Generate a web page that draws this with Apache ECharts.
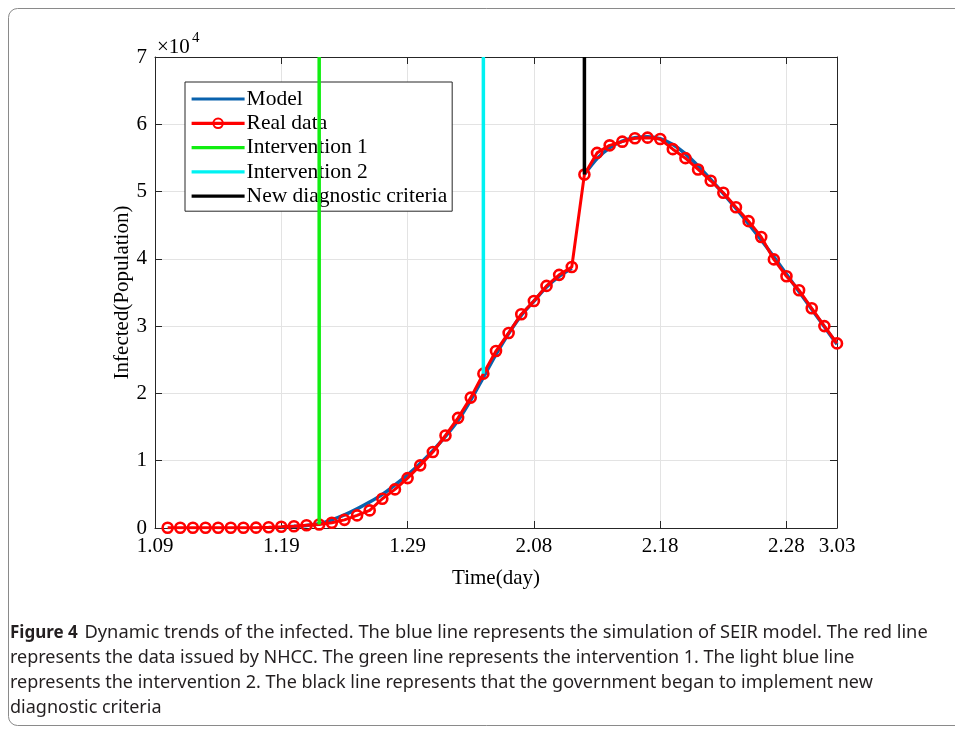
<!DOCTYPE html>
<html><head><meta charset="utf-8">
<script src="https://cdn.jsdelivr.net/npm/echarts@6/dist/echarts.min.js"></script>
<style>html,body{margin:0;padding:0;background:#fff;}#c{width:955px;height:732px;}</style>
</head><body><div id="c"></div>
<script>
// ---- data ----
const days = [1,2,3,4,5,6,7,8,9,10,11,12,13,14,15,16,17,18,19,20,21,22,23,24,25,26,27,28,29,30,31,32,33,34,35,36,37,38,39,40,41,42,43,44,45,46,47,48,49,50,51,52,53,54];
const realData = [40,40,39,38,37,35,34,50,110,175,260,403,526,771,1208,1870,2613,4349,5739,7417,9308,11289,13748,16369,19381,22942,26302,28985,31774,33738,35982,37626,38800,52526,55748,56873,57416,57934,58016,57805,56303,54965,53284,51606,49824,47672,45604,43258,39919,37414,35329,32652,30004,27433];
const modelDaysA = [10,11,12,13,14,15,16,17,18,19,20,21,22,23,24,25,26,27,28,29,30,31,32,33];
const modelA = [150,250,380,620,1200,1950,2850,3850,5000,6400,7900,9600,11500,13600,16000,19000,22400,25800,28900,31600,33700,35800,37400,38600];
const modelDaysB = [34,35,36,37,38,39,40,41,42,43,44,45,46,47,48,49,50,51,52,53,54];
const modelB = [52526,54900,56500,57500,58000,58150,57850,57000,55600,53800,51800,49700,47500,45200,42800,40300,37700,35100,32500,29900,27300];
const interventionNames = ['Intervention 1','Intervention 2','New diagnostic criteria'];
const interventionDays = [13,26,34];
const xTickValues = [0,10,20,30,40,50,54];
const xTickLabels = ['1.09','1.19','1.29','2.08','2.18','2.28','3.03'];
const yTickValues = [0,10000,20000,30000,40000,50000,60000,70000];
const yTickLabels = ['0','1','2','3','4','5','6','7'];
const captionLines = [
  'Dynamic trends of the infected. The blue line represents the simulation of SEIR model. The red line',
  'represents the data issued by NHCC. The green line represents the intervention 1. The light blue line',
  'represents the intervention 2. The black line represents that the government began to implement new',
  'diagnostic criteria'
];

const SERIF = 'Liberation Serif, Times New Roman, serif';
const AX = '#262626';
const interventionColors = ['#11ee11','#00f2f2','#000000'];

const chart = echarts.init(document.getElementById('c'));
const pair = (xs, ys) => xs.map((x,i)=>[x, ys[i]]);

const series = [
  {name:'Model', type:'line', data: pair(modelDaysA, modelA), smooth:0.3, symbol:'none',
   lineStyle:{color:'#0a62ad', width:3.5}, itemStyle:{color:'#0a62ad'}, z:2},
  {name:'Real data', type:'line', data: pair(days, realData), symbol:'circle', symbolSize:10,
   lineStyle:{color:'#f00', width:3}, itemStyle:{color:'rgba(255,255,255,0)', borderColor:'#f00', borderWidth:2.6}, z:3}
];
interventionNames.forEach((n,i)=>{
  const d = interventionDays[i];
  series.push({name:n, type:'line', symbol:'none', data:[[d, realData[days.indexOf(d)]],[d,70000]],
    lineStyle:{color:interventionColors[i], width:3.5}, itemStyle:{color:interventionColors[i]}, z:4});
});
series.push({name:'Model', type:'line', data: pair(modelDaysB, modelB), smooth:0.3, symbol:'none',
   lineStyle:{color:'#0a62ad', width:3.5}, itemStyle:{color:'#0a62ad'}, z:2});

const xFmt = v => { const i = xTickValues.indexOf(v); return i>=0 ? xTickLabels[i] : ''; };
const yFmt = v => { const i = yTickValues.indexOf(v); return i>=0 ? yTickLabels[i] : ''; };

const CAP = '#231f20';
const graphics = [
  {type:'rect', shape:{x:8.5,y:8.5,width:980,height:717,r:9}, style:{fill:'none', stroke:'#8a8a8a', lineWidth:1}, silent:true},
  {type:'text', x:157, y:47, style:{text:'\u00d710', font:'21px '+SERIF, fill:'#000', verticalAlign:'middle'}},
  {type:'text', x:192, y:38, style:{text:'4', font:'15px '+SERIF, fill:'#000', verticalAlign:'middle'}},
  {type:'text', x:10, y:633, style:{text:'{b|Figure 4}  {n|'+captionLines[0]+'}', verticalAlign:'middle',
     rich:{b:{font:'bold 17px Noto Sans', fill:CAP}, n:{font:'18.3px Noto Sans', fill:CAP}}}}
];
for (let i=1;i<captionLines.length;i++){
  graphics.push({type:'text', x:10, y:633+25*i, style:{text:captionLines[i], font:'18px Noto Sans', fill:CAP, verticalAlign:'middle'}});
}

const noSym = {opacity:0};
chart.setOption({
  animation:false,
  backgroundColor:'#fff',
  grid:{left:155, right:118, top:57, bottom:204, outerBoundsMode:'none', containLabel:false},
  legend:{data:[{name:'Model', itemStyle:noSym},'Real data',{name:'Intervention 1', itemStyle:noSym},{name:'Intervention 2', itemStyle:noSym},{name:'New diagnostic criteria', itemStyle:noSym}],
    orient:'vertical', left:185, top:82, padding:[6,5,4,5], itemWidth:53, itemHeight:12, itemGap:2.3,
    borderColor:AX, borderWidth:1, backgroundColor:'#fff',
    lineStyle:{width:3.2},
    textStyle:{fontFamily:SERIF, fontSize:21.5, color:'#000', padding:[0,0,0,-3]}},
  xAxis:[
    {type:'value', min:0, max:54, interval:10, name:'Time(day)', nameLocation:'middle', nameGap:40, nameMoveOverlap:false,
     nameTextStyle:{fontFamily:SERIF, fontSize:21, color:'#000'},
     axisLine:{show:true, onZero:false, lineStyle:{color:AX, width:1}},
     axisTick:{show:true, inside:true, length:7, lineStyle:{color:AX}, customValues:xTickValues},
     axisLabel:{customValues:xTickValues, formatter:xFmt, fontFamily:SERIF, fontSize:21, color:'#000', margin:8, showMaxLabel:true, hideOverlap:false},
     splitLine:{show:true, lineStyle:{color:'#e3e3e3', width:1}}},
    {type:'value', position:'top', min:0, max:54, interval:10,
     axisLine:{show:true, onZero:false, lineStyle:{color:AX, width:1}},
     axisTick:{show:true, inside:true, length:7, lineStyle:{color:AX}, customValues:xTickValues},
     axisLabel:{show:false}, splitLine:{show:false}}
  ],
  yAxis:[
    {type:'value', min:0, max:70000, interval:10000, name:'Infected(Population)', nameLocation:'middle', nameGap:22, nameMoveOverlap:false,
     nameTextStyle:{fontFamily:SERIF, fontSize:21, color:'#000'},
     axisLine:{show:true, onZero:false, lineStyle:{color:AX, width:1}},
     axisTick:{show:true, inside:true, length:7, lineStyle:{color:AX}},
     axisLabel:{formatter:yFmt, fontFamily:SERIF, fontSize:21, color:'#000', margin:8},
     splitLine:{show:true, lineStyle:{color:'#e3e3e3', width:1}}},
    {type:'value', position:'right', min:0, max:70000, interval:10000,
     axisLine:{show:true, onZero:false, lineStyle:{color:AX, width:1}},
     axisTick:{show:true, inside:true, length:7, lineStyle:{color:AX}},
     axisLabel:{show:false}, splitLine:{show:false}}
  ],
  series: series,
  graphic: graphics
});
</script></body></html>
